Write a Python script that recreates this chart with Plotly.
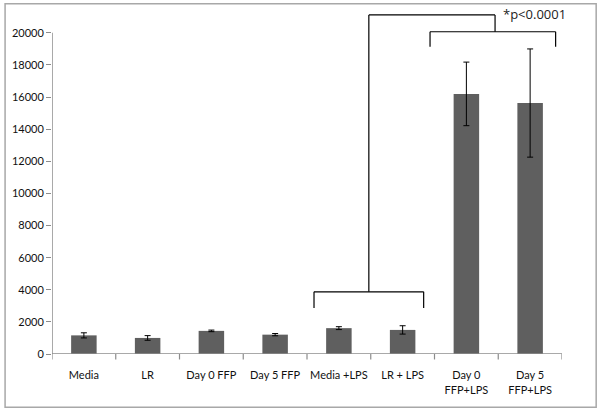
import plotly.graph_objects as go

categories = ['Media', 'LR', 'Day 0 FFP', 'Day 5 FFP', 'Media +LPS', 'LR + LPS',
              'Day 0<br>FFP+LPS', 'Day 5<br>FFP+LPS']
values = [1160, 1000, 1440, 1205, 1610, 1500, 16200, 15630]
errors = [160, 145, 50, 70, 90, 260, 1980, 3370]
ytick_vals = list(range(0, 20001, 2000))

fig = go.Figure(go.Bar(
    x=list(range(len(categories))),
    y=values,
    width=0.4,
    marker=dict(color='#5f5f5f', line=dict(width=0)),
    error_y=dict(type='data', array=errors, color='black', thickness=1, width=3),
))

grey = '#8c8c8c'
fig.update_layout(
    width=600, height=412,
    paper_bgcolor='white', plot_bgcolor='white',
    margin=dict(l=52, r=38, t=12, b=58),
    font=dict(family='Lato, Open Sans, sans-serif', size=11, color='#111'),
    showlegend=False,
    xaxis=dict(
        range=[-0.5, 7.5],
        tickvals=list(range(len(categories))),
        ticktext=categories,
        showgrid=False, zeroline=False,
        showline=False, ticks='outside', ticklen=11, tickcolor='rgba(0,0,0,0)',
        automargin=False,
    ),
    yaxis=dict(
        range=[0, 21300],
        tickvals=ytick_vals,
        ticktext=[str(v) for v in ytick_vals],
        ticks='outside', ticklen=5, tickcolor=grey,
        showgrid=False, zeroline=False, showline=False,
        tickfont=dict(size=11),
        automargin=False,
    ),
)

shapes = []
# axis lines
shapes.append(dict(type='line', xref='x', yref='y', x0=-0.5, x1=-0.5, y0=0, y1=20000,
                   line=dict(color=grey, width=1.5)))
shapes.append(dict(type='line', xref='x', yref='y', x0=-0.5, x1=7.5, y0=0, y1=0,
                   line=dict(color=grey, width=1.5)))
for i in range(len(categories) + 1):
    shapes.append(dict(type='line', xref='x', yref='paper', x0=i - 0.5, x1=i - 0.5,
                       y0=0, y1=-0.016, line=dict(color=grey, width=1.2)))

# significance brackets
blk = dict(color='black', width=1.2)
seg = [
    (3.61, 2870, 3.61, 3870), (3.61, 3870, 5.33, 3870), (5.33, 3870, 5.33, 2870),
    (4.47, 3870, 4.47, 21120), (4.47, 21120, 6.45, 21120), (6.45, 21120, 6.45, 20070),
    (5.43, 19130, 5.43, 20070), (5.43, 20070, 7.40, 20070), (7.40, 20070, 7.40, 19130),
]
for x0, y0, x1, y1 in seg:
    shapes.append(dict(type='line', xref='x', yref='y', x0=x0, y0=y0, x1=x1, y1=y1, line=blk))

# outer frame
shapes.append(dict(type='rect', xref='paper', yref='paper', x0=-0.092, x1=1.067,
                   y0=-0.156, y1=1.024, line=dict(color='#a8a8a8', width=1.5)))

fig.update_layout(shapes=shapes)
fig.add_annotation(x=6.55, y=21150, xref='x', yref='y', text='*p<0.0001', showarrow=False,
                   xanchor='left', yanchor='middle',
                   font=dict(family='Open Sans, sans-serif', size=13, color='#222'))

fig.write_html('out.html', config={'displayModeBar': False},
               post_script="document.body.style.margin='0';document.body.style.overflow='hidden';")
